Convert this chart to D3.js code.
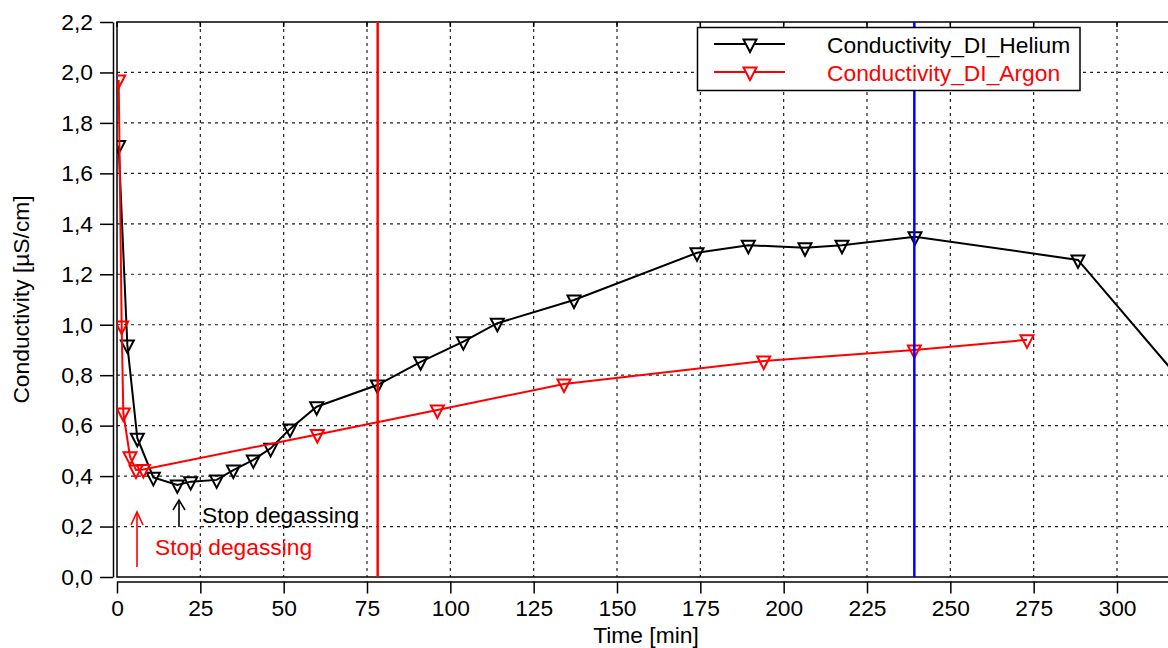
<!DOCTYPE html>
<html>
<head>
<meta charset="utf-8">
<script src="https://cdn.jsdelivr.net/npm/d3@7/dist/d3.min.js"></script>
<style>
  html, body { margin: 0; padding: 0; background: #fff; }
  svg { display: block; font-family: "Liberation Sans", Arial, sans-serif; }
</style>
</head>
<body>
<svg id="chart" width="1168" height="648"></svg>
<script>
// Conductivity of DI water degassed with helium and argon, over time
const heliumTime = [0.5, 3.1, 6.1, 10.9, 18.1, 22.1, 29.9, 34.9, 40.9, 46.1, 51.9, 59.9,
                    78.1, 91.1, 103.9, 114.1, 137.1, 174, 189.4, 206.4, 217.5, 239.4, 288.3, 320];
const heliumCond = [1.71, 0.92, 0.55, 0.395, 0.365, 0.378, 0.385, 0.424, 0.464, 0.51, 0.587, 0.675,
                    0.761, 0.853, 0.933, 1.006, 1.098, 1.285, 1.315, 1.305, 1.315, 1.349, 1.257, 0.766];

const argonTime = [0.5, 1.4, 1.9, 3.9, 5.7, 7.9, 60.1, 96.1, 134.1, 194, 239.2, 273];
const argonCond = [1.97, 0.995, 0.65, 0.477, 0.424, 0.426, 0.565, 0.662, 0.765, 0.856, 0.9, 0.94];

// reference times marked with vertical lines
const refTimes = [78.2, 239.2];
// times at which degassing stopped
const stopHelium = 18.6;
const stopArgon = 6.0;

const xTicks = [0, 25, 50, 75, 100, 125, 150, 175, 200, 225, 250, 275, 300];
const yTicks = [0, 0.2, 0.4, 0.6, 0.8, 1.0, 1.2, 1.4, 1.6, 1.8, 2.0, 2.2];

const seriesNames = ["Conductivity_DI_Helium", "Conductivity_DI_Argon"];
const xTitle = "Time [min]";
const yTitle = "Conductivity [µS/cm]";

const W = 1168, H = 648;
const plotLeft = 117, plotTop = 22, plotBottom = 577;
const pxPerMin = 1000 / 300;

const x = d3.scaleLinear().domain([0, 320]).range([plotLeft, plotLeft + 320 * pxPerMin]);
const y = d3.scaleLinear().domain([0, 2.2]).range([plotBottom, plotTop]);

const svg = d3.select("#chart");
const FS = 22.8;

svg.append("defs").append("clipPath").attr("id", "plotClip")
  .append("rect").attr("x", plotLeft).attr("y", plotTop - 2)
  .attr("width", W - plotLeft).attr("height", plotBottom - plotTop + 2);

// grid
const grid = svg.append("g").attr("stroke", "#222").attr("stroke-width", 1.2).attr("stroke-dasharray", "3,4");
grid.selectAll(".gx").data(xTicks.filter(d => d > 0)).join("line")
  .attr("x1", d => x(d)).attr("x2", d => x(d)).attr("y1", plotTop).attr("y2", plotBottom);
grid.selectAll(".gy").data(yTicks.filter(d => d > 0 && d < 2.2)).join("line")
  .attr("x1", plotLeft).attr("x2", W).attr("y1", d => y(d)).attr("y2", d => y(d));

// plot frame (top, left, bottom)
const frame = svg.append("g").attr("stroke", "#000").attr("stroke-width", 1.5).attr("fill", "none");
frame.append("path").attr("d", `M${W},${plotTop}H${plotLeft}V${plotBottom}H${W}`);
// small inward ticks on the top edge
frame.selectAll(".tt").data(xTicks).join("line")
  .attr("x1", d => x(d)).attr("x2", d => x(d)).attr("y1", plotTop).attr("y2", plotTop + 5);

// y axis, offset to the left of the frame
const fmt = d => d3.format(".1f")(d).replace(".", ",");
const yAxis = svg.append("g").attr("transform", "translate(113,0)")
  .call(d3.axisLeft(y).tickValues(yTicks).tickFormat(fmt).tickSize(13).tickSizeOuter(0).tickPadding(7));
// x axis, offset below the frame
const xAxis = svg.append("g").attr("transform", `translate(0,${plotBottom + 4.5})`)
  .call(d3.axisBottom(x).tickValues(xTicks).tickFormat(d3.format("d")).tickSize(12).tickSizeOuter(0).tickPadding(6));
[yAxis, xAxis].forEach(a => {
  a.selectAll("path, line").attr("stroke", "#000").attr("stroke-width", 1.5);
  a.selectAll("text").attr("font-size", FS).attr("font-family", "Liberation Sans, Arial, sans-serif").attr("fill", "#000");
});

// axis titles
svg.append("text").attr("x", 646).attr("y", 643).attr("text-anchor", "middle")
  .attr("font-size", FS).text(xTitle);
svg.append("text").attr("transform", `translate(29,${(plotTop + plotBottom) / 2}) rotate(-90)`)
  .attr("text-anchor", "middle").attr("font-size", FS).text(yTitle);

// series
const tri = (cx, cy) => `M${cx - 6.5},${cy - 4.5}L${cx + 6.5},${cy - 4.5}L${cx},${cy + 8}Z`;
const plot = svg.append("g").attr("clip-path", "url(#plotClip)");

function drawSeries(times, vals, color) {
  const pts = times.map((t, i) => [t, vals[i]]);
  plot.append("path").datum(pts)
    .attr("d", d3.line().x(d => x(d[0])).y(d => y(d[1])))
    .attr("fill", "none").attr("stroke", color).attr("stroke-width", 2);
  plot.append("g").selectAll("path").data(pts).join("path")
    .attr("d", d => tri(x(d[0]), y(d[1])))
    .attr("fill", "none").attr("stroke", color).attr("stroke-width", 2);
}
drawSeries(heliumTime, heliumCond, "#000");
drawSeries(argonTime, argonCond, "#ff0000");

// vertical reference lines
const refColors = ["#ff0000", "#0000ff"];
svg.append("g").selectAll("line").data(refTimes).join("line")
  .attr("x1", d => x(d)).attr("x2", d => x(d)).attr("y1", plotTop).attr("y2", plotBottom)
  .attr("stroke", (d, i) => refColors[i]).attr("stroke-width", 2.5);

// stop-degassing annotations
function arrow(t, tipY, baseY, head, color) {
  const g = svg.append("g").attr("stroke", color).attr("stroke-width", 1.6).attr("fill", "none");
  const ax = x(t);
  g.append("line").attr("x1", ax).attr("x2", ax).attr("y1", tipY).attr("y2", baseY);
  g.append("path").attr("d", `M${ax - 6},${tipY + head}L${ax},${tipY}L${ax + 6},${tipY + head}`);
  return ax;
}
const hx = arrow(stopHelium, 500, 527, 10, "#000");
svg.append("text").attr("x", hx + 23).attr("y", 523).attr("font-size", FS).attr("fill", "#000").text("Stop degassing");
const ax2 = arrow(stopArgon, 512, 567, 13, "#ff0000");
svg.append("text").attr("x", ax2 + 18).attr("y", 555).attr("font-size", FS).attr("fill", "#ff0000").text("Stop degassing");

// legend
const lg = svg.append("g");
lg.append("rect").attr("x", 697.5).attr("y", 27.5).attr("width", 382.5).attr("height", 63)
  .attr("fill", "#fff").attr("stroke", "#000").attr("stroke-width", 1.5);
const legendColors = ["#000", "#ff0000"];
seriesNames.forEach((name, i) => {
  const ly = 44 + i * 28;
  lg.append("line").attr("x1", 714).attr("x2", 785).attr("y1", ly).attr("y2", ly)
    .attr("stroke", legendColors[i]).attr("stroke-width", 2);
  lg.append("path").attr("d", tri(750, ly)).attr("fill", "#fff")
    .attr("stroke", legendColors[i]).attr("stroke-width", 2);
  lg.append("text").attr("x", 827).attr("y", ly + 9).attr("font-size", FS)
    .attr("fill", legendColors[i]).text(name);
});
</script>
</body>
</html>
